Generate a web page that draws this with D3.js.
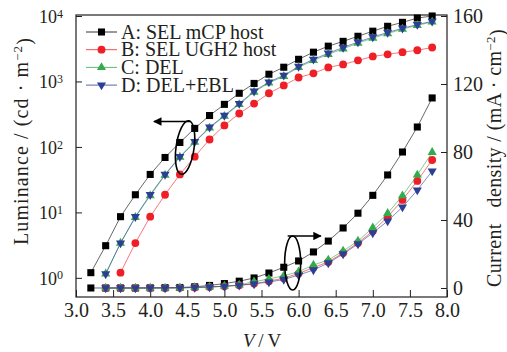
<!DOCTYPE html>
<html>
<head>
<meta charset="utf-8">
<script src="https://cdn.jsdelivr.net/npm/d3@7"></script>
<style>
  html, body { margin: 0; padding: 0; background: #fff; }
  svg { display: block; }
  text { font-family: "Liberation Serif", "Times New Roman", serif; fill: #231f20; }
</style>
</head>
<body>
<svg id="chart" width="507" height="352"></svg>
<script>
// voltage steps (V)
const voltage = [3.2, 3.4, 3.6, 3.8, 4.0, 4.2, 4.4, 4.6, 4.8, 5.0, 5.2, 5.4,
                 5.6, 5.8, 6.0, 6.2, 6.4, 6.6, 6.8, 7.0, 7.2, 7.4, 7.6, 7.8];

// luminance, cd/m2 (A starts at 3.2 V, C/D at 3.4 V, B at 3.6 V)
const lumA = [1.2, 3.1, 8.6, 18.6, 38, 69, 117, 192, 302, 447, 660, 933,
              1290, 1650, 2180, 2800, 3460, 4100, 4900, 5860, 6960, 8000, 9300, 10000];
const lumB = [1.2, 3.4, 8.6, 18.6, 38, 71, 130, 213, 324, 460,
              660, 870, 1150, 1330, 1640, 1820, 2100, 2410, 2600, 2800, 3000, 3300];
const lumC = [1.15, 3.4, 8.4, 18, 37, 70, 118, 195, 295, 445,
              690, 950, 1200, 1640, 2100, 2600, 3150, 3850, 4600, 5400, 6300, 7200, 8100];
const lumD = [1.15, 3.4, 8.6, 18.6, 38, 71, 120, 200, 302, 460,
              710, 980, 1240, 1700, 2180, 2700, 3300, 4000, 4780, 5600, 6500, 7400, 8300];

// current density, mA/cm2 (A starts at 3.2 V, others at 3.4 V)
const curA = [0, 0, 0, 0, 0.1, 0.2, 0.3, 0.7, 1.5, 2.6, 4.0, 5.9,
              8.8, 12.2, 15.9, 21.2, 27.6, 35.3, 44, 54.5, 66.5, 80, 94.7, 111.8];
const curB = [0, 0, 0, 0, 0, 0.1, 0.3, 0.6, 1.0, 1.6,
              2.6, 4.0, 5.8, 8.5, 12, 15.3, 20.6, 26.5, 33.5, 41.8, 51.8, 63, 75.3];
const curC = [0, 0, 0, 0, 0, 0.1, 0.3, 0.6, 1.1, 1.8,
              3.7, 5.3, 7.2, 9.6, 13.5, 16.5, 21.8, 27.6, 35.5, 43.9, 54.3, 66.5, 79.8];
const curD = [0, 0, 0, 0, 0, 0.1, 0.3, 0.6, 1.0, 1.6,
              2.4, 3.5, 5.0, 7.6, 10.6, 14.7, 20, 25.9, 32.4, 39.4, 47.6, 57.6, 68.8];

const xTicks = [3.0, 3.5, 4.0, 4.5, 5.0, 5.5, 6.0, 6.5, 7.0, 7.5, 8.0];
const lumTicks = [1, 10, 100, 1000, 10000];
const curTicks = [0, 40, 80, 120, 160];

const series = [
  { name: "A: SEL mCP host",  color: "#000000", shape: d3.symbolSquare,   size: 50, lum: lumA, lumStart: 0, cur: curA, curStart: 0 },
  { name: "B: SEL UGH2 host", color: "#ee1f26", shape: d3.symbolCircle,   size: 48, lum: lumB, lumStart: 2, cur: curB, curStart: 1 },
  { name: "C: DEL",           color: "#33aa4d", shape: d3.symbolTriangle, size: 36, lum: lumC, lumStart: 1, cur: curC, curStart: 1 },
  { name: "D: DEL+EBL",       color: "#2c3f95", shape: d3.symbolTriangle, size: 36, lum: lumD, lumStart: 1, cur: curD, curStart: 1, flip: true }
];

const svg = d3.select("#chart");
const pLeft = 76, pRight = 447, pTop = 15, pBottom = 297;

const x = d3.scaleLinear().domain([3, 8]).range([pLeft, pRight]);
const yL = d3.scaleLog().domain([0.51, 10000]).range([pBottom, pTop + 1]);
const yR = d3.scaleLinear().domain([-5.3, 160]).range([pBottom, pTop + 1]);

// frame
svg.append("rect")
  .attr("x", pLeft).attr("y", pTop)
  .attr("width", pRight - pLeft).attr("height", pBottom - pTop)
  .attr("fill", "none").attr("stroke", "#231f20").attr("stroke-width", 1.2);

// bottom axis, ticks inward
const gx = svg.append("g").attr("transform", `translate(0,${pBottom})`)
  .call(d3.axisBottom(x).tickValues(xTicks).tickSizeInner(-7).tickSizeOuter(0).tickPadding(6)
    .tickFormat(d3.format(".1f")));
gx.select(".domain").remove();
gx.attr("font-family", null).attr("font-size", null);
gx.selectAll("line").attr("stroke", "#231f20");
gx.selectAll("text").attr("font-size", 20).attr("fill", "#231f20");

// left axis (log)
const gl = svg.append("g").attr("transform", `translate(${pLeft},0)`)
  .call(d3.axisLeft(yL).tickValues(lumTicks).tickSizeInner(-6).tickSizeOuter(0).tickFormat(""));
gl.select(".domain").remove();
gl.attr("font-family", null).attr("font-size", null);
gl.selectAll("line").attr("stroke", "#231f20");
gl.selectAll(".tick").each(function (d) {
  const t = d3.select(this).append("text")
    .attr("x", -13).attr("dy", "0.36em")
    .attr("text-anchor", "end")
    .attr("font-size", 18).attr("fill", "#231f20");
  t.append("tspan").text("10");
  t.append("tspan").attr("dy", "-0.45em").attr("font-size", 12).text(Math.round(Math.log10(d)));
});

// right axis
const gr = svg.append("g").attr("transform", `translate(${pRight},0)`)
  .call(d3.axisRight(yR).tickValues(curTicks).tickSizeInner(-6).tickSizeOuter(0).tickPadding(6));
gr.select(".domain").remove();
gr.attr("font-family", null).attr("font-size", null);
gr.selectAll("line").attr("stroke", "#231f20");
gr.selectAll("text").attr("font-size", 20).attr("fill", "#231f20");

// rotated titles, spaced out to the length they have in the figure
function stretch(t, target) {
  const n = t.text().length;
  const w = t.node().getComputedTextLength();
  if (w < target) t.attr("letter-spacing", (target - w) / n);
}

const lt = svg.append("text")
  .attr("transform", `translate(28,141) rotate(-90)`)
  .attr("text-anchor", "middle").attr("font-size", 20);
lt.append("tspan").text("Luminance / (cd · m");
lt.append("tspan").attr("dy", "-0.45em").attr("font-size", 13).text("−2");
lt.append("tspan").attr("dy", "0.45em").text(")");
stretch(lt, 208);

const rt = svg.append("text")
  .attr("transform", `translate(501,158) rotate(-90)`)
  .attr("text-anchor", "middle").attr("font-size", 20);
rt.append("tspan").text("Current\u2002 density / (mA · cm");
rt.append("tspan").attr("dy", "-0.45em").attr("font-size", 13).text("−2");
rt.append("tspan").attr("dy", "0.45em").text(")");
stretch(rt, 258);

const xt = svg.append("text")
  .attr("x", 262).attr("y", 347)
  .attr("text-anchor", "middle").attr("font-size", 19);
xt.append("tspan").attr("font-style", "italic").text("V");
xt.append("tspan").text("\u2009/\u2009V");

// curves
function drawSeries(s, values, start, yScale) {
  const pts = values.map((v, i) => [voltage[i + start], v]);
  const g = svg.append("g");
  g.append("path")
    .datum(pts)
    .attr("fill", "none").attr("stroke", s.color).attr("stroke-width", 0.8).attr("stroke-opacity", 0.75)
    .attr("d", d3.line().x(d => x(d[0])).y(d => yScale(d[1])));
  const sym = d3.symbol().type(s.shape).size(s.size);
  g.selectAll("path.m").data(pts).join("path")
    .attr("class", "m")
    .attr("transform", d => `translate(${x(d[0])},${yScale(d[1])})${s.flip ? " rotate(180)" : ""}`)
    .attr("d", sym)
    .attr("fill", s.color);
}
series.forEach(s => drawSeries(s, s.lum, s.lumStart, yL));
series.forEach(s => drawSeries(s, s.cur, s.curStart, yR));

// annotations: ellipses with arrows pointing at the axis each group belongs to
svg.append("defs").append("marker")
  .attr("id", "ah").attr("viewBox", "0 0 10 10").attr("refX", 9).attr("refY", 5)
  .attr("markerWidth", 7).attr("markerHeight", 6).attr("orient", "auto-start-reverse")
  .append("path").attr("d", "M0,0L10,5L0,10Z").attr("fill", "#000");

const e1 = { v: 4.47, y: yL(98) };
svg.append("ellipse")
  .attr("cx", x(e1.v)).attr("cy", e1.y).attr("rx", 9).attr("ry", 27)
  .attr("transform", `rotate(8,${x(e1.v)},${e1.y})`)
  .attr("fill", "none").attr("stroke", "#000").attr("stroke-width", 1.6);
svg.append("line")
  .attr("x1", x(e1.v) + 5).attr("y1", e1.y - 26).attr("x2", x(4.05)).attr("y2", e1.y - 26)
  .attr("stroke", "#000").attr("stroke-width", 1.4).attr("marker-end", "url(#ah)");

const e2 = { v: 5.92, y: yR(14.7) };
svg.append("ellipse")
  .attr("cx", x(e2.v)).attr("cy", e2.y).attr("rx", 8).attr("ry", 27)
  .attr("fill", "none").attr("stroke", "#000").attr("stroke-width", 1.6);
svg.append("line")
  .attr("x1", x(e2.v) - 5).attr("y1", e2.y - 27).attr("x2", x(6.3)).attr("y2", e2.y - 27)
  .attr("stroke", "#000").attr("stroke-width", 1.4).attr("marker-end", "url(#ah)");

// legend
const lg = svg.append("g");
series.forEach((s, i) => {
  const yy = 32 + i * 17.7;
  lg.append("line").attr("x1", 86).attr("x2", 117).attr("y1", yy).attr("y2", yy)
    .attr("stroke", s.color).attr("stroke-width", 0.8);
  lg.append("path").attr("d", d3.symbol().type(s.shape).size(s.size))
    .attr("transform", `translate(101.5,${yy})${s.flip ? " rotate(180)" : ""}`)
    .attr("fill", s.color);
  lg.append("text").attr("x", 121).attr("y", yy + 6.5).attr("font-size", 20).text(s.name);
});
</script>
</body>
</html>
